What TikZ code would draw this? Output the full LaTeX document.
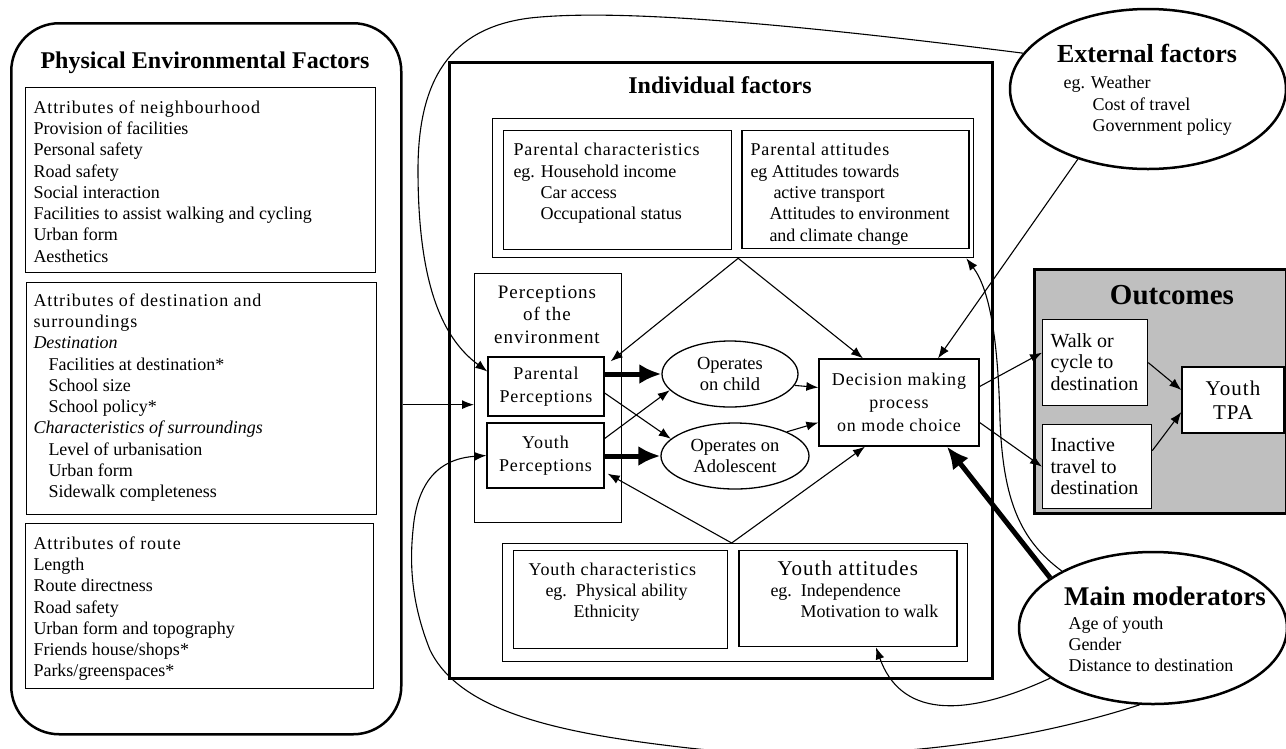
\documentclass[tikz,border=0pt]{standalone}
\usepackage{fontspec}
\setmainfont{Liberation Serif}
\newfontfamily\wide[LetterSpace=5]{Liberation Serif}
\usetikzlibrary{shapes.geometric, arrows.meta, positioning, calc}

\begin{document}
\begin{tikzpicture}[
    x=1pt, y=-1pt,
    >={Latex[length=12pt,width=9pt]},
    line width=1pt,
    every node/.style={font=\fontsize{18}{21.3}\selectfont},  % body text size
    box/.style={draw, rectangle, line width=1.3pt, inner sep=0pt, anchor=north west},
    txt/.style={align=left, anchor=north west, inner sep=0pt},
    headline/.style={font=\fontsize{24}{28}\selectfont\bfseries, inner sep=0pt},
    arr/.style={->, line width=1.1pt},
    fatarr/.style={-{Latex[length=22pt,width=20pt]}, line width=5pt}
]

% Styles for the round nodes
\tikzset{
    blob/.style={
        draw,
        ellipse,
        line width=2.5pt,
        inner sep=0pt,
        fill=white
    },
    oval/.style={
        draw,
        ellipse,
        line width=1.3pt,
        inner sep=0pt,
        align=center,
        font=\fontsize{18.5}{21.5}\selectfont
    },
    wbox/.style={
        draw,
        rectangle,
        line width=1.3pt,
        inner sep=0pt,
        align=center,
        font=\fontsize{18}{23}\selectfont\wide
    }
}

\useasboundingbox (0,0) rectangle (1286,748);

% Physical environmental factors (left panel)
\node[box, rounded corners=48pt, line width=2.5pt, minimum width=390pt, minimum height=711pt] (pef) at (10,22) {};
\node[headline] (peftitle) at (205,63) {Physical Environmental Factors};

\node[box, minimum width=350pt, minimum height=185pt] (nbh) at (25,87) {};
\node[txt] (nbhtxt) at (33,100) {{\wide Attributes of neighbourhood}\\Provision of facilities\\Personal safety\\Road safety\\Social interaction\\Facilities to assist walking and cycling\\Urban form\\Aesthetics};

\node[box, minimum width=350pt, minimum height=232pt] (dest) at (26,282) {};
\node[txt] (desttxt) at (33,293) {{\wide Attributes of destination and}\\{\wide surroundings}\\\textit{Destination}\\\hspace*{15pt}Facilities at destination*\\\hspace*{15pt}School size\\\hspace*{15pt}School policy*\\\textit{Characteristics of surroundings}\\\hspace*{15pt}Level of urbanisation\\\hspace*{15pt}Urban form\\\hspace*{15pt}Sidewalk completeness};

\node[box, minimum width=348pt, minimum height=165pt] (route) at (25,523) {};
\node[txt] (routetxt) at (33,536) {{\wide Attributes of route}\\Length\\Route directness\\Road safety\\Urban form and topography\\Friends house/shops*\\Parks/greenspaces*};

% Individual factors (middle panel)
\node[box, line width=2.5pt, minimum width=543pt, minimum height=616pt] (ind) at (448,61) {};
\node[headline] (indtitle) at (720,85) {Individual factors};

% Parental group (2 boxes)
\node[box, minimum width=481pt, minimum height=139pt] (pgroup) at (492,118) {};
\node[box, minimum width=228pt, minimum height=119pt] (pchar) at (503,130) {};
\node[box, right=9pt of pchar.north east, anchor=north west, minimum width=227pt, minimum height=118pt] (patt) {};
\node[txt] (pchartxt) at (513,143) {{\wide Parental characteristics}\\eg. Household income\\\hspace*{27pt}Car access\\\hspace*{27pt}Occupational status};
\node[txt] (patttxt) at (750,143) {{\wide Parental attitudes}\\eg Attitudes towards\\\hspace*{23pt}active transport\\\hspace*{19pt}Attitudes to environment\\\hspace*{19pt}and climate change};

% Perceptions of the environment
\node[box, minimum width=147pt, minimum height=249pt] (penv) at (474,273) {};
\node[align=center, anchor=north, inner sep=0pt, font=\fontsize{19}{22.5}\selectfont\wide] (penvtxt) at (547,285) {Perceptions\\of the\\environment};
\node[wbox, minimum width=116pt, minimum height=59pt] (PP) at (546,386.5) {Parental\\Perceptions};
\node[wbox, minimum width=117pt, minimum height=65pt] (YP) at (545.5,455.5) {Youth\\Perceptions};

% Operates on ...
\node[oval, minimum width=136pt, minimum height=66pt] (child) at (730,374) {Operates\\on child};
\node[oval, minimum width=148pt, minimum height=66pt] (adol) at (735,456) {Operates on\\Adolescent};

% Decision making
\node[wbox, minimum width=160pt, minimum height=87pt] (dec) at (899,402.5) {Decision making\\process\\on mode choice};

% Youth group (2 boxes)
\node[box, minimum width=465pt, minimum height=118pt] (ygroup) at (502,543) {};
\node[box, minimum width=214pt, minimum height=98pt] (ychar) at (513,550) {};
\node[box, right=10pt of ychar.north east, anchor=north west, minimum width=218pt, minimum height=96pt] (yatt) {};
\node[txt] (ychartxt) at (528,562) {{\wide Youth characteristics}\\\hspace*{17pt}eg.\ \ Physical ability\\\hspace*{45pt}Ethnicity};
\node[txt] (yatttxt) at (770,560) {\hspace*{7pt}{\fontsize{21}{23}\selectfont\wide Youth attitudes}\\eg.\ \ Independence\\\hspace*{30pt}Motivation to walk};

% External factors
\node[blob, minimum width=276pt, minimum height=160pt] (ext) at (1148,89) {};
\node[headline, font=\fontsize{26}{30}\selectfont\bfseries] (exttitle) at (1147,53) {External factors};
\node[txt] (exttxt) at (1063,76) {eg. Weather\\\hspace*{29pt}Cost of travel\\\hspace*{29pt}Government policy};

% Outcomes
\node[box, line width=2.5pt, fill=black!25, minimum width=252pt, minimum height=244pt] (out) at (1033,268) {};
\node[headline, font=\fontsize{29}{33}\selectfont\bfseries] (outtitle) at (1172,295) {Outcomes};
\node[box, fill=white, minimum width=105pt, minimum height=86pt] (walk) at (1042,319) {};
\node[txt, font=\fontsize{20}{21.5}\selectfont] (walktxt) at (1050,333) {Walk or\\cycle to\\destination};
\node[box, fill=white, minimum width=109pt, minimum height=84pt] (inact) at (1042,424) {};
\node[txt, font=\fontsize{20}{21.5}\selectfont] (inacttxt) at (1050,438) {Inactive\\travel to\\destination};
\node[wbox, fill=white, font=\fontsize{21}{24}\selectfont\wide, minimum width=102pt, minimum height=66pt] (tpa) at (1233,400) {Youth\\TPA};

% Main moderators
\node[blob, minimum width=268pt, minimum height=152pt] (mm) at (1153,628) {};
\node[headline, font=\fontsize{27}{31}\selectfont\bfseries] (mmtitle) at (1165,596) {Main moderators};
\node[txt] (mmtxt) at (1068,616) {Age of youth\\Gender\\Distance to destination};

% Arrows inside individual factors
\draw[arr] ($(pef.east |- penv.west)+(0,6.5)$) -- ($(penv.west)+(0,6.5)$);
\draw[fatarr] (PP.east |- child.west) -- (child.west);
\draw[fatarr] (YP.east |- adol.west) -- (adol.west);
\draw[arr] ([yshift=-6.5pt]PP.east) -- (adol.165);
\draw[arr] ([yshift=17pt]YP.east) -- (child.195);
\draw[arr] (child.-10) -- ([yshift=15pt]dec.west);
\draw[arr] (adol.25) -- ([yshift=-20pt]dec.west);

% Diamond from the two groups
\draw[arr, <->] ([xshift=6pt,yshift=-5pt]PP.north east) -- ([xshift=5pt]pgroup.south) -- ([xshift=-36pt]dec.north);
\draw[arr, <->] ([xshift=3pt,yshift=15pt]YP.south east) -- ([xshift=-3.5pt]ygroup.north) -- ([xshift=-34pt]dec.south);

% External factors arrows
\draw[arr] (ext.225) -- ([xshift=39pt]dec.north);
\draw[arr] (ext.164) .. controls (800,25) and (620,8) .. (530,18) .. controls (450,28) and (418,80) .. (418,170) .. controls (418,290) and (445,340) .. ([yshift=15pt]PP.west);

% Main moderators arrows
\draw[arr] (mm.260) .. controls (1000,750) and (830,765) .. (680,747) .. controls (560,733) and (460,712) .. (430,650) .. controls (410,600) and (410,560) .. (413,530) .. controls (418,470) and (450,458) .. (YP.west);
\draw[arr] (mm.206) .. controls (960,720) and (900,715) .. ([xshift=28pt]yatt.south);
\draw[arr] (mm.148) .. controls (1020,540) and (1003,500) .. (1000,420) .. controls (998,340) and (990,290) .. ([xshift=-8pt]pgroup.south east);
\draw[fatarr] (mm.154) -- ([xshift=48pt]dec.south);

% Outcomes arrows
\draw[arr] ([yshift=16pt]dec.east) -- ([yshift=10pt]walk.west);
\draw[arr] ([yshift=-20pt]dec.east) -- (inact.west);
\draw[arr] (walk.east) -- ([yshift=10pt]tpa.west);
\draw[arr] ([yshift=16pt]inact.east) -- ([yshift=-12pt]tpa.west);

\end{tikzpicture}
\end{document}
